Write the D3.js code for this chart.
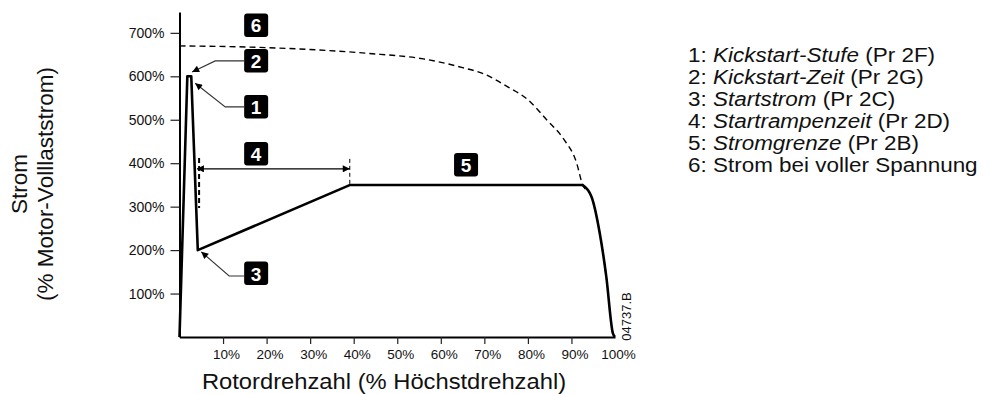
<!DOCTYPE html>
<html>
<head>
<meta charset="utf-8">
<script src="https://cdn.jsdelivr.net/npm/d3@7/dist/d3.min.js"></script>
<style>
  html, body { margin: 0; padding: 0; background: #fff; }
  svg { display: block; font-family: Arial, "Liberation Sans", sans-serif; }
</style>
</head>
<body>
<svg id="chart" width="998" height="394"></svg>
<script>
// Motor speed (% of max) and current (% of full-load current)
const xTicks = [10, 20, 30, 40, 50, 60, 70, 80, 90, 100];
const yTicks = [100, 200, 300, 400, 500, 600, 700];

// Soft-start current profile: kickstart pulse, start ramp, current limit
const rampSpeed   = [0, 1.8, 2.7, 4.2, 39.2, 92.5];
const rampCurrent = [0, 600, 600, 200, 350, 350];
// Current falling off near full speed
const tailSpeed   = [92.5, 94.6, 96.5, 98.0, 99.5, 100];
const tailCurrent = [350, 323, 239, 139, 9, 0];

// Direct-on-line current at full voltage
const dolSpeed   = [0, 20, 43, 56, 65, 70, 75, 80, 84.3, 88.1, 91.2, 92.5];
const dolCurrent = [670, 666, 653, 640, 620, 605, 578, 546, 500, 457, 400, 352];

// Numbered callouts: [label, speed, current]
const callouts = [
  ["6", 17.6, 717],
  ["2", 17.6, 635.5],
  ["1", 17.6, 529.6],
  ["4", 17.6, 421],
  ["5", 65.8, 396],
  ["3", 17.6, 146]
];
// Leader lines: elbow + arrow tip, in data units
const leaders = [
  [[14.8, 635.5], [8.2, 635.5], [2.9, 610]],
  [[14.8, 529.6], [10.5, 529.6], [3.6, 584]],
  [[14.8, 140.5], [11.4, 140.5], [5.0, 196]]
];
// Start ramp time span
const rampSpan = { from: 4.0, to: 39.1, level: 387 };

const legendItems = [
  ["1: ", "Kickstart-Stufe", " (Pr 2F)"],
  ["2: ", "Kickstart-Zeit", " (Pr 2G)"],
  ["3: ", "Startstrom", " (Pr 2C)"],
  ["4: ", "Startrampenzeit", " (Pr 2D)"],
  ["5: ", "Stromgrenze", " (Pr 2B)"],
  ["6: Strom bei voller Spannung", "", ""]
];

const svg = d3.select("#chart");
const x = d3.scaleLinear().domain([0, 100]).range([179.5, 615]);
const y = d3.scaleLinear().domain([0, 748]).range([337, 12]);

const defs = svg.append("defs");
defs.append("marker")
  .attr("id", "arrow").attr("viewBox", "0 0 10 10")
  .attr("refX", 10).attr("refY", 5)
  .attr("markerWidth", 9).attr("markerHeight", 7)
  .attr("markerUnits", "userSpaceOnUse")
  .attr("orient", "auto-start-reverse")
  .append("path").attr("d", "M0,0 L10,5 L0,10 Z").attr("fill", "#000");

// Axes
const yAxis = d3.axisLeft(y).tickValues(yTicks).tickSize(9).tickSizeOuter(0)
  .tickFormat(d => d + "%");
const gy = svg.append("g").attr("transform", `translate(${x(0)},0)`).call(yAxis);
gy.select(".domain").attr("stroke", "#000").attr("stroke-width", 2);
gy.selectAll(".tick line").attr("stroke", "#222").attr("stroke-width", 1.2);
gy.selectAll(".tick text").attr("font-size", 14).attr("fill", "#111")
  .attr("x", -15);

const xAxis = d3.axisBottom(x).tickValues(xTicks).tickSize(7).tickSizeOuter(0)
  .tickFormat(d => d + "%");
const gx = svg.append("g").attr("transform", `translate(0,${y(0)})`).call(xAxis);
gx.select(".domain").attr("stroke", "#000").attr("stroke-width", 2);
gx.selectAll(".tick line").attr("stroke", "#222").attr("stroke-width", 1.2)
  .attr("display", d => d === 100 ? "none" : null);
gx.selectAll(".tick text").attr("font-size", 13.5).attr("fill", "#111")
  .attr("y", 12).attr("dx", 3);
gy.attr("font-family", null); gx.attr("font-family", null);

// Full-voltage current (dashed)
const line = d3.line().x(d => x(d[0])).y(d => y(d[1]));
svg.append("path")
  .datum(d3.zip(dolSpeed, dolCurrent).concat(d3.zip(tailSpeed, tailCurrent).slice(1)))
  .attr("d", line.curve(d3.curveMonotoneX))
  .attr("fill", "none").attr("stroke", "#000").attr("stroke-width", 1.4)
  .attr("stroke-dasharray", "6,4");

// Soft-start current (solid)
svg.append("path")
  .datum(d3.zip(rampSpeed, rampCurrent))
  .attr("d", d3.line().x(d => x(d[0])).y(d => y(d[1])).curve(d3.curveLinear))
  .attr("fill", "none").attr("stroke", "#000").attr("stroke-width", 2.6)
  .attr("stroke-linejoin", "round");
svg.append("path")
  .datum(d3.zip(tailSpeed, tailCurrent))
  .attr("d", d3.line().x(d => x(d[0])).y(d => y(d[1])).curve(d3.curveMonotoneX))
  .attr("fill", "none").attr("stroke", "#000").attr("stroke-width", 2.6);

// Ramp time markers
svg.append("line")
  .attr("x1", x(4.5)).attr("x2", x(4.5)).attr("y1", y(412)).attr("y2", y(297))
  .attr("stroke", "#000").attr("stroke-width", 2).attr("stroke-dasharray", "5,3");
svg.append("line")
  .attr("x1", x(rampSpan.to)).attr("x2", x(rampSpan.to)).attr("y1", y(410)).attr("y2", y(352))
  .attr("stroke", "#000").attr("stroke-width", 1).attr("stroke-dasharray", "4,3");
svg.append("line")
  .attr("x1", x(rampSpan.from)).attr("x2", x(rampSpan.to))
  .attr("y1", y(rampSpan.level)).attr("y2", y(rampSpan.level))
  .attr("stroke", "#000").attr("stroke-width", 1.1)
  .attr("marker-start", "url(#arrow)").attr("marker-end", "url(#arrow)");

// Leader lines
svg.selectAll("path.leader").data(leaders).enter().append("path")
  .attr("class", "leader")
  .attr("d", d => d3.line().x(p => x(p[0])).y(p => y(p[1]))(d))
  .attr("fill", "none").attr("stroke", "#333").attr("stroke-width", 1.1)
  .attr("marker-end", "url(#arrow)");

// Callout boxes
const cg = svg.selectAll("g.callout").data(callouts).enter().append("g")
  .attr("class", "callout")
  .attr("transform", d => `translate(${x(d[1])},${y(d[2])})`);
cg.append("rect").attr("x", -12).attr("y", -12).attr("width", 24).attr("height", 23.5)
  .attr("rx", 3).attr("fill", "#000");
cg.append("text").attr("text-anchor", "middle").attr("y", 7)
  .attr("font-size", 19).attr("font-weight", "bold").attr("fill", "#fff")
  .text(d => d[0]);

// Axis titles
svg.append("text").attr("transform", "translate(384,389) scale(1.08,1)")
  .attr("text-anchor", "middle")
  .attr("font-size", 22).attr("fill", "#111").text("Rotordrehzahl (% Höchstdrehzahl)");
const yt = svg.append("text").attr("transform", "translate(0,184) rotate(-90)")
  .attr("text-anchor", "middle").attr("font-size", 22.5).attr("fill", "#111");
yt.append("tspan").attr("x", 0).attr("y", 27).text("Strom");
yt.append("tspan").attr("x", 0).attr("y", 53).text("(% Motor-Volllaststrom)");

// Drawing number
svg.append("text").attr("transform", "translate(631,316.5) rotate(-90)")
  .attr("text-anchor", "middle").attr("font-size", 13).attr("fill", "#111").text("04737.B");

// Legend
const lg = svg.append("g").attr("transform", "translate(688,0) scale(1.07,1)")
  .attr("font-size", 21).attr("fill", "#111");
legendItems.forEach((it, i) => {
  const t = lg.append("text").attr("x", 0).attr("y", 62 + i * 22);
  t.append("tspan").text(it[0]);
  if (it[1]) t.append("tspan").attr("font-style", "italic").text(it[1]);
  if (it[2]) t.append("tspan").text(it[2]);
});
</script>
</body>
</html>
